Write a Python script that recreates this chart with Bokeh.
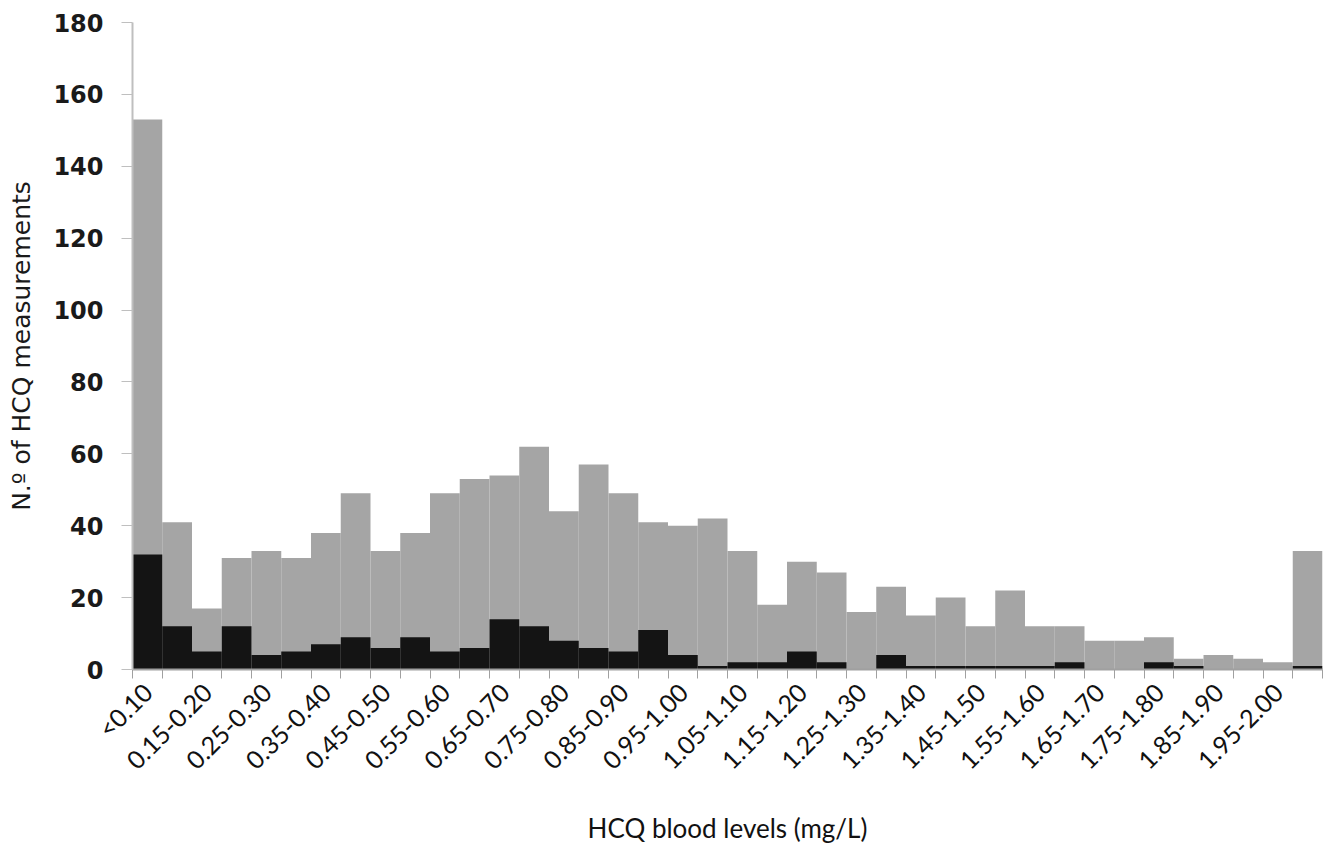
import math
from bokeh.plotting import figure
from bokeh.models import Range1d, FixedTicker, ColumnDataSource
from bokeh.embed import file_html
from bokeh.resources import INLINE

# HCQ blood level bins (mg/L)
categories = [
    "<0.10", "0.10-0.15", "0.15-0.20", "0.20-0.25", "0.25-0.30", "0.30-0.35",
    "0.35-0.40", "0.40-0.45", "0.45-0.50", "0.50-0.55", "0.55-0.60", "0.60-0.65",
    "0.65-0.70", "0.70-0.75", "0.75-0.80", "0.80-0.85", "0.85-0.90", "0.90-0.95",
    "0.95-1.00", "1.00-1.05", "1.05-1.10", "1.10-1.15", "1.15-1.20", "1.20-1.25",
    "1.25-1.30", "1.30-1.35", "1.35-1.40", "1.40-1.45", "1.45-1.50", "1.50-1.55",
    "1.55-1.60", "1.60-1.65", "1.65-1.70", "1.70-1.75", "1.75-1.80", "1.80-1.85",
    "1.85-1.90", "1.90-1.95", "1.95-2.00", ">2.00",
]

# all measurements (grey bars)
total_counts = [153, 41, 17, 31, 33, 31, 38, 49, 33, 38, 49, 53, 54, 62, 44, 57, 49, 41, 40, 42,
                33, 18, 30, 27, 16, 23, 15, 20, 12, 22, 12, 12, 8, 8, 9, 3, 4, 3, 2, 33]
# subset (black bars)
subset_counts = [32, 12, 5, 12, 4, 5, 7, 9, 6, 9, 5, 6, 14, 12, 8, 6, 5, 11, 4, 1,
                 2, 2, 5, 2, 0, 4, 1, 1, 1, 1, 1, 2, 0, 0, 2, 1, 0, 0, 0, 1]

y_ticks = [0, 20, 40, 60, 80, 100, 120, 140, 160, 180]

n = len(categories)
pos = list(range(n))
src = ColumnDataSource(dict(x=pos, total=total_counts, subset=subset_counts, cat=categories))

p = figure(width=1333, height=860, output_backend="svg", toolbar_location=None,
           x_range=Range1d(-0.5, n - 0.5), y_range=Range1d(0, 180),
           min_border_left=132, min_border_right=11, min_border_top=22, min_border_bottom=191)
p.outline_line_color = None
p.background_fill_color = "white"
p.border_fill_color = "white"
p.xgrid.visible = False
p.ygrid.visible = False

p.vbar(x="x", top="total", width=1.0, source=src, fill_color="#a5a5a5", line_color=None)
p.vbar(x="x", top="subset", width=1.0, source=src, fill_color="#141414", line_color=None)

# x axis: labels on every other bin, small ticks on bin boundaries
label_pos = pos[::2]
p.xaxis.ticker = FixedTicker(ticks=label_pos, minor_ticks=[i - 0.5 for i in range(n + 1)])
p.xaxis.major_label_overrides = {i: categories[i] for i in label_pos}
p.xaxis.major_tick_line_color = None
p.xaxis.minor_tick_line_color = "#a0a0a0"
p.xaxis.minor_tick_out = 9
p.xaxis.minor_tick_in = 0
p.xaxis.axis_line_color = "#a0a0a0"
p.xaxis.axis_line_width = 2
p.xaxis.major_label_orientation = math.pi / 4
p.xaxis.major_label_text_font = "Lato"
p.xaxis.major_label_text_font_size = "25px"
p.xaxis.major_label_text_color = "#111111"
p.xaxis.major_label_standoff = 9
p.xaxis.axis_label = "HCQ blood levels (mg/L)"
p.xaxis.axis_label_text_font = "Lato"
p.xaxis.axis_label_text_font_size = "26px"
p.xaxis.axis_label_text_font_style = "normal"
p.xaxis.axis_label_text_color = "#111111"
p.xaxis.axis_label_standoff = 24

# y axis
p.yaxis.ticker = FixedTicker(ticks=y_ticks)
p.yaxis.minor_tick_line_color = None
p.yaxis.major_tick_line_color = "#bfbfbf"
p.yaxis.major_tick_out = 11
p.yaxis.major_tick_in = 0
p.yaxis.axis_line_color = "#bfbfbf"
p.yaxis.axis_line_width = 2
p.yaxis.major_label_text_font = "DejaVu Sans"
p.yaxis.major_label_text_font_style = "bold"
p.yaxis.major_label_text_font_size = "24px"
p.yaxis.major_label_text_color = "#1a1a1a"
p.yaxis.major_label_standoff = 18
p.yaxis.axis_label = "N.º of HCQ measurements"
p.yaxis.axis_label_text_font = "DejaVu Sans"
p.yaxis.axis_label_text_font_size = "25px"
p.yaxis.axis_label_text_font_style = "normal"
p.yaxis.axis_label_text_color = "#1a1a1a"
p.yaxis.axis_label_standoff = 14

open("out.html", "w").write(file_html(p, INLINE))
